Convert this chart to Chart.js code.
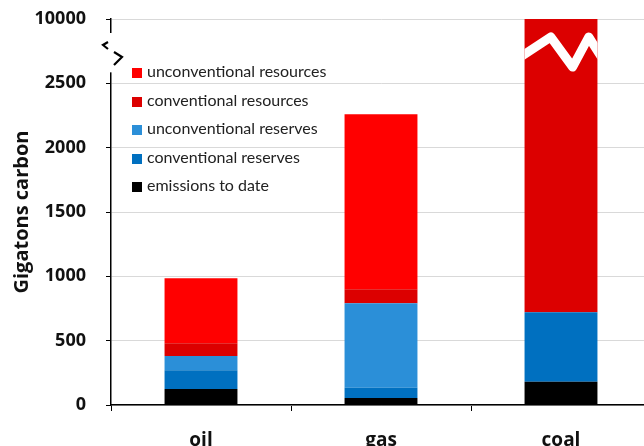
<!DOCTYPE html>
<html>
<head>
<meta charset="utf-8">
<script src="https://cdn.jsdelivr.net/npm/chart.js@4.4.1/dist/chart.umd.min.js"></script>
<style>
  html, body { margin: 0; padding: 0; background: #fff; overflow: hidden; }
  #wrap { position: relative; width: 660px; height: 446px; overflow: hidden; }
  #legend { position: absolute; left: 132px; top: 57px; font-family: Lato, sans-serif; font-size: 16px; color: #222; }
  #legend div { height: 28.5px; line-height: 28.5px; white-space: nowrap; }
  #legend span { display: inline-block; width: 10px; height: 10px; margin-right: 5px; vertical-align: -1px; }
</style>
</head>
<body>
<div id="wrap">
  <canvas id="myChart" width="660" height="470"></canvas>
  <div id="legend"></div>
</div>
<script>
var categories = ['oil', 'gas', 'coal'];
var emissions = [125, 55, 180];
var convReserves = [145, 80, 540];
var unconvReserves = [110, 655, 0];
var convResources = [100, 110, 9280];
var unconvResources = [505, 1360, 0];
// axis is broken above 2500, the last label sits one step higher
var yTickLabels = ['0', '500', '1000', '1500', '2000', '2500', '10000'];
var yStep = 500;

var labelFont = "'Open Sans', sans-serif";

// axis break marks + white zigzag over the coal bar
var breakPlugin = {
    id: 'breaks',
    afterDraw: function(chart) {
        var ctx = chart.ctx;
        var y = chart.scales.y;
        var x0 = y.right;
        var yTop = y.getPixelForValue((yTickLabels.length - 1) * yStep);
        var y25 = y.getPixelForValue((yTickLabels.length - 2) * yStep);
        ctx.save();
        ctx.fillStyle = '#fff';
        ctx.fillRect(x0 - 3, yTop + 14, 6, (y25 - 11) - (yTop + 14));
        ctx.strokeStyle = '#000';
        ctx.lineWidth = 2.2;
        ctx.beginPath();
        ctx.moveTo(x0 - 3, yTop + 23);
        ctx.lineTo(x0 - 8, yTop + 26);
        ctx.lineTo(x0 - 3, yTop + 30);
        ctx.moveTo(x0 + 3, yTop + 33);
        ctx.lineTo(x0 + 11, yTop + 38);
        ctx.lineTo(x0 + 3, yTop + 46);
        ctx.stroke();

        var meta = chart.getDatasetMeta(2);
        var bar = meta.data[2];
        var w = bar.width;
        var left = bar.x - w / 2;
        ctx.beginPath();
        ctx.rect(left, yTop, w, 80);
        ctx.clip();
        ctx.strokeStyle = '#fff';
        ctx.lineWidth = 9;
        ctx.lineJoin = 'round';
        ctx.beginPath();
        ctx.moveTo(left - 4, yTop + 38);
        ctx.lineTo(left + w * 0.36, yTop + 18);
        ctx.lineTo(left + w * 0.66, yTop + 48);
        ctx.lineTo(left + w * 0.88, yTop + 18);
        ctx.lineTo(left + w + 4, yTop + 38);
        ctx.stroke();
        ctx.restore();
    }
};

var ctx = document.getElementById('myChart').getContext('2d');
var chart = new Chart(ctx, {
    type: 'bar',
    data: {
        labels: categories,
        datasets: [
            { label: 'emissions to date', data: emissions, backgroundColor: '#000000' },
            { label: 'conventional reserves', data: convReserves, backgroundColor: '#0070c0' },
            { label: 'unconventional reserves', data: unconvReserves, backgroundColor: '#2b8fd8' },
            { label: 'conventional resources', data: convResources, backgroundColor: '#dc0000' },
            { label: 'unconventional resources', data: unconvResources, backgroundColor: '#ff0000' }
        ]
    },
    options: {
        responsive: false,
        animation: false,
        layout: { padding: { top: 19, right: 9, bottom: 18, left: 0 } },
        datasets: { bar: { categoryPercentage: 1, barPercentage: 0.405 } },
        plugins: { legend: { display: false }, tooltip: { enabled: false } },
        scales: {
            x: {
                stacked: true,
                afterFit: function(s) { s.height = 47; s.paddingLeft = 0; s.paddingRight = 0; },
                grid: { display: true, drawOnChartArea: false, drawTicks: true, tickLength: 6, color: '#000', offset: true },
                border: { color: '#000', width: 1.5 },
                ticks: { color: '#111', padding: 18, font: { family: labelFont, size: 19, weight: 'bold' } }
            },
            y: {
                stacked: true,
                min: 0,
                max: (yTickLabels.length - 1) * yStep,
                afterBuildTicks: function(s) {
                    s.ticks = yTickLabels.map(function(l, i) { return { value: i * yStep }; });
                },
                afterFit: function(s) { s.width = 111; s.paddingTop = 0; s.paddingBottom = 0; },
                grid: { color: '#d9d9d9', tickColor: '#000', tickLength: 5, lineWidth: 1 },
                border: { color: '#000', width: 1.5 },
                ticks: {
                    color: '#111',
                    padding: 20,
                    font: { family: labelFont, size: 18, weight: 'bold' },
                    callback: function(v, i) { return yTickLabels[i]; }
                },
                title: {
                    display: true,
                    text: 'Gigatons carbon',
                    color: '#111',
                    padding: { top: 10, bottom: 0 },
                    font: { family: labelFont, size: 20, weight: 'bold' }
                }
            }
        }
    },
    plugins: [breakPlugin]
});

var leg = document.getElementById('legend');
chart.data.datasets.slice().reverse().forEach(function(d) {
    var row = document.createElement('div');
    var sw = document.createElement('span');
    sw.style.background = d.backgroundColor;
    row.appendChild(sw);
    row.appendChild(document.createTextNode(d.label));
    leg.appendChild(row);
});
</script>
</body>
</html>
